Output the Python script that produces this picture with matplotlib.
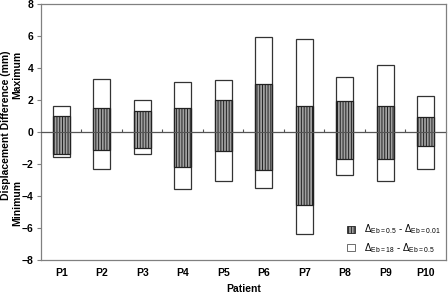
import matplotlib
matplotlib.use('Agg')
import matplotlib.pyplot as plt
import numpy as np
from matplotlib.patches import Patch

# displacement differences (mm) per patient
patients = ['P1', 'P2', 'P3', 'P4', 'P5', 'P6', 'P7', 'P8', 'P9', 'P10']
outer_max = [1.63, 3.31, 2.02, 3.12, 3.23, 5.92, 5.81, 3.41, 4.20, 2.23]
inner_max = [1.00, 1.50, 1.31, 1.50, 2.02, 3.00, 1.60, 1.91, 1.60, 0.94]
inner_min = [-1.38, -1.10, -1.00, -2.19, -1.19, -2.40, -4.59, -1.71, -1.71, -0.88]
outer_min = [-1.56, -2.30, -1.38, -3.58, -3.09, -3.48, -6.36, -2.69, -3.09, -2.30]

plt.rcParams['font.family'] = ['Liberation Sans', 'DejaVu Sans']
plt.rcParams['mathtext.default'] = 'regular'
plt.rcParams['hatch.linewidth'] = 0.7

fig = plt.figure(figsize=(4.48, 2.94), dpi=100)
ax = fig.add_axes([0.0915, 0.1156, 0.904, 0.8708])

x = np.arange(len(patients))
w = 0.41
edge = '#333333'
fs = 7.5

# white outer boxes (max/min of Eb=18 vs Eb=0.5)
ax.bar(x, np.array(outer_max) - np.array(outer_min), bottom=outer_min, width=w,
       color='white', edgecolor=edge, linewidth=0.9, zorder=2)
# hatched inner boxes (Eb=0.5 vs Eb=0.01)
ax.bar(x, np.array(inner_max) - np.array(inner_min), bottom=inner_min, width=w,
       color='#a0a0a0', edgecolor='#222222', hatch='||||||', linewidth=0.9, zorder=3)

ax.axhline(0, color='#555555', linewidth=0.8, zorder=4)

ax.set_xlim(-0.5, len(patients) - 0.5)
ax.set_ylim(-8, 8)
ax.set_yticks(np.arange(-8, 9, 2))
ax.set_xticks(x)
ax.set_xticklabels(patients, fontsize=fs, fontweight='bold')
ax.tick_params(axis='x', length=0, pad=6)
ax.tick_params(axis='y', length=3, width=0.8, color='#808080', labelsize=fs, pad=2.5)
for lab in ax.get_yticklabels():
    lab.set_fontweight('bold')
for s in ax.spines.values():
    s.set_color('#808080')
    s.set_linewidth(0.9)

# category boundary ticks on the zero line
sec = ax.secondary_xaxis(0.5)
sec.set_xticks(np.arange(0.5, len(patients) - 1, 1))
sec.set_xticklabels([])
sec.tick_params(length=2.5, width=0.8, color='#555555')
sec.spines['bottom'].set_visible(False)

ax.set_xlabel('Patient', fontsize=fs, fontweight='bold', labelpad=4)
fig.text(0.013, 0.575, 'Displacement Difference (mm)', rotation=90, ha='center',
         va='center', fontsize=fs, fontweight='bold')
fig.text(0.038, 0.745, 'Maximum', rotation=90, ha='center', va='center',
         fontsize=fs, fontweight='bold')
fig.text(0.038, 0.31, 'Minimum', rotation=90, ha='center', va='center',
         fontsize=fs, fontweight='bold')

handles = [Patch(facecolor='#a0a0a0', edgecolor='#222222', hatch='||||||', linewidth=0.6),
           Patch(facecolor='white', edgecolor='#555555', linewidth=0.6)]
labels = [r'$\Delta_{Eb=0.5}$ - $\Delta_{Eb=0.01}$',
          r'$\Delta_{Eb=18}$ - $\Delta_{Eb=0.5}$']
ax.legend(handles, labels, loc='lower right', frameon=False, fontsize=7,
          handlelength=0.8, handleheight=0.8, handletextpad=0.9,
          labelspacing=0.45, borderaxespad=0.15)

fig.savefig('out.png', dpi=100)
